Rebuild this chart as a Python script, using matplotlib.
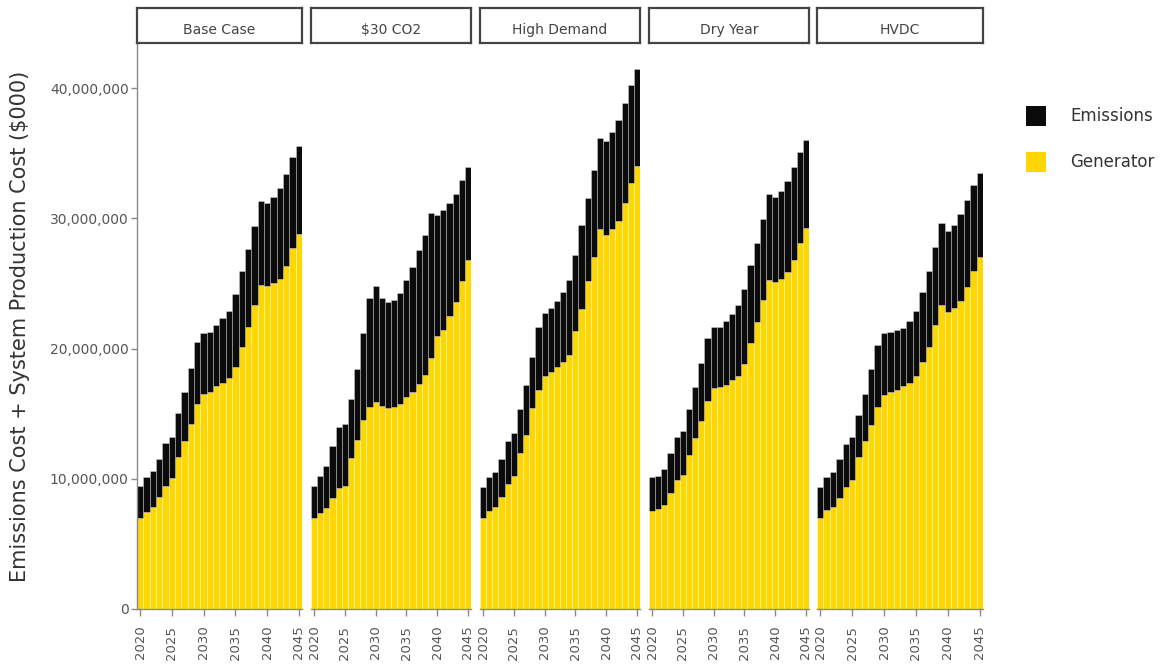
import matplotlib
matplotlib.use("Agg")
import matplotlib.pyplot as plt
from matplotlib.patches import Rectangle
from matplotlib.ticker import FuncFormatter
import numpy as np

plt.rcParams['font.family'] = ['DejaVu Sans']

# Years modelled in every scenario
years = list(range(2020, 2046))

scenarios = ["Base Case", "$30 CO2", "High Demand", "Dry Year", "HVDC"]

# Generator production cost per year (millions of $000)
gen_base = [7.02, 7.47, 7.86, 8.58, 9.45, 10.04, 11.70, 12.88, 14.21, 15.72, 16.55, 16.63, 17.10,
            17.38, 17.71, 18.62, 20.14, 21.66, 23.31, 24.91, 24.77, 25.02, 25.32, 26.34, 27.72, 28.83]
gen_co2 = [7.01, 7.40, 7.73, 8.50, 9.27, 9.45, 11.60, 13.00, 14.50, 15.50, 15.90, 15.60, 15.40,
           15.50, 15.75, 16.30, 16.70, 17.30, 18.00, 19.30, 21.00, 21.40, 22.50, 23.60, 25.20, 26.80]
gen_high = [7.00, 7.53, 7.86, 8.63, 9.57, 10.20, 12.00, 13.38, 15.45, 16.83, 17.88, 18.21, 18.57,
            18.95, 19.50, 21.32, 23.03, 25.19, 27.03, 29.16, 28.69, 29.16, 29.79, 31.17, 32.69, 34.01]
gen_dry = [7.53, 7.67, 8.00, 8.88, 9.93, 10.29, 11.86, 13.16, 14.43, 16.00, 16.97, 17.02, 17.24,
           17.60, 17.93, 18.84, 20.41, 22.07, 23.72, 25.30, 25.10, 25.38, 25.85, 26.84, 28.14, 29.24]
gen_hvdc = [6.98, 7.59, 7.86, 8.55, 9.38, 9.93, 11.64, 12.88, 14.15, 15.53, 16.47, 16.69, 16.83,
            17.10, 17.38, 17.93, 18.95, 20.14, 21.79, 23.37, 22.84, 23.12, 23.64, 24.74, 25.93, 27.03]

# Emissions cost per year (millions of $000)
emi_base = [2.39, 2.69, 2.76, 2.94, 3.33, 3.20, 3.33, 3.75, 4.27, 4.75, 4.64, 4.61, 4.69,
            4.96, 5.19, 5.57, 5.79, 6.01, 6.12, 6.46, 6.40, 6.65, 7.01, 7.09, 6.96, 6.76]
emi_co2 = [2.44, 2.82, 3.25, 4.02, 4.73, 4.75, 4.50, 5.40, 6.66, 8.42, 8.90, 8.26, 8.19,
           8.22, 8.53, 8.94, 9.56, 10.29, 10.69, 11.10, 9.26, 9.28, 8.67, 8.26, 7.77, 7.13]
emi_high = [2.38, 2.62, 2.68, 2.87, 3.31, 3.32, 3.37, 3.86, 3.94, 4.83, 4.82, 4.88, 5.07,
            5.41, 5.74, 5.85, 6.49, 6.40, 6.71, 6.98, 7.23, 7.45, 7.73, 7.73, 7.59, 7.45]
emi_dry = [2.59, 2.53, 2.76, 3.12, 3.31, 3.37, 3.51, 3.86, 4.47, 4.83, 4.69, 4.64, 4.91,
           5.08, 5.38, 5.71, 6.02, 6.07, 6.21, 6.56, 6.54, 6.76, 7.03, 7.09, 6.98, 6.76]
emi_hvdc = [2.40, 2.56, 2.68, 2.95, 3.31, 3.26, 3.26, 3.67, 4.25, 4.75, 4.69, 4.55, 4.63,
            4.50, 4.74, 4.97, 5.41, 5.79, 5.99, 6.29, 6.18, 6.40, 6.70, 6.71, 6.62, 6.49]

generator = [gen_base, gen_co2, gen_high, gen_dry, gen_hvdc]
emissions = [emi_base, emi_co2, emi_high, emi_dry, emi_hvdc]

y_ticks = [0, 10_000_000, 20_000_000, 30_000_000, 40_000_000]
x_ticks = [2020, 2025, 2030, 2035, 2040, 2045]

GEN_COLOR = "#FFD700"
EMI_COLOR = "#0b0b0b"
TEXT_COLOR = "#555555"
SCALE = 1_000_000

W, H = 1166, 670
fig = plt.figure(figsize=(W / 100, H / 100), dpi=100)

# Facet extents in pixels
lefts = [137, 311, 480, 649, 817]
rights = [302, 471, 640, 809, 983]
panel_top, panel_bottom = 43, 609
strip_top = 8


def fx(px):
    return px / W


def fy(py):
    return 1 - py / H


for i, name in enumerate(scenarios):
    l, r = lefts[i], rights[i]
    ax = fig.add_axes([fx(l), fy(panel_bottom), fx(r - l), (panel_bottom - panel_top) / H])
    gen = np.array(generator[i]) * SCALE
    emi = np.array(emissions[i]) * SCALE
    ax.bar(years, gen, width=1.0, color=GEN_COLOR, edgecolor=(1, 1, 1, 0.45),
           linewidth=0.6, zorder=2)
    ax.bar(years, emi, bottom=gen, width=1.0, color=EMI_COLOR, edgecolor=(1, 1, 1, 0.35),
           linewidth=0.6, zorder=2)
    ax.set_xlim(2019.5, 2045.5)
    ax.set_ylim(0, 43_470_000)
    ax.set_xticks(x_ticks)
    ax.set_xticklabels([str(t) for t in x_ticks], rotation=90, fontsize=9.5, color=TEXT_COLOR)
    for s in ["top", "right"]:
        ax.spines[s].set_visible(False)
    ax.spines["bottom"].set_color("#8a8a8a")
    ax.spines["bottom"].set_linewidth(1.0)
    ax.tick_params(axis="x", length=5, width=1.0, color="#8a8a8a", pad=7)
    if i == 0:
        ax.spines["left"].set_color("#8a8a8a")
        ax.spines["left"].set_linewidth(1.0)
        ax.set_yticks(y_ticks)
        ax.yaxis.set_major_formatter(FuncFormatter(lambda v, p: f"{int(v):,}"))
        ax.tick_params(axis="y", length=4, width=1.0, color="#8a8a8a", labelsize=10,
                       labelcolor=TEXT_COLOR, pad=2)
    else:
        ax.spines["left"].set_visible(False)
        ax.set_yticks([])
    ax.patch.set_alpha(0)

    # Facet strip
    sax = fig.add_axes([fx(l), fy(panel_top), fx(r - l), (panel_top - strip_top) / H])
    sax.set_xticks([])
    sax.set_yticks([])
    sax.set_facecolor("white")
    for s in sax.spines.values():
        s.set_color("#444444")
        s.set_linewidth(1.6)
    sax.text(0.5, 0.36, name, ha="center", va="center", fontsize=10, color="#444444",
             transform=sax.transAxes)

fig.text(fx(20), fy(326), "Emissions Cost + System Production Cost ($000)", rotation=90,
         ha="center", va="center", fontsize=15, color="#333333")

# Legend
legend_items = [("Emissions", EMI_COLOR, 116), ("Generator", GEN_COLOR, 162)]
for label, color, cy in legend_items:
    fig.patches.append(Rectangle((fx(1026), fy(cy + 10)), fx(20), 20 / H, facecolor=color,
                                 edgecolor="none", transform=fig.transFigure))
    fig.text(fx(1070), fy(cy), label, ha="left", va="center", fontsize=12, color="#333333")

fig.savefig("out.png", dpi=100, facecolor="white")
